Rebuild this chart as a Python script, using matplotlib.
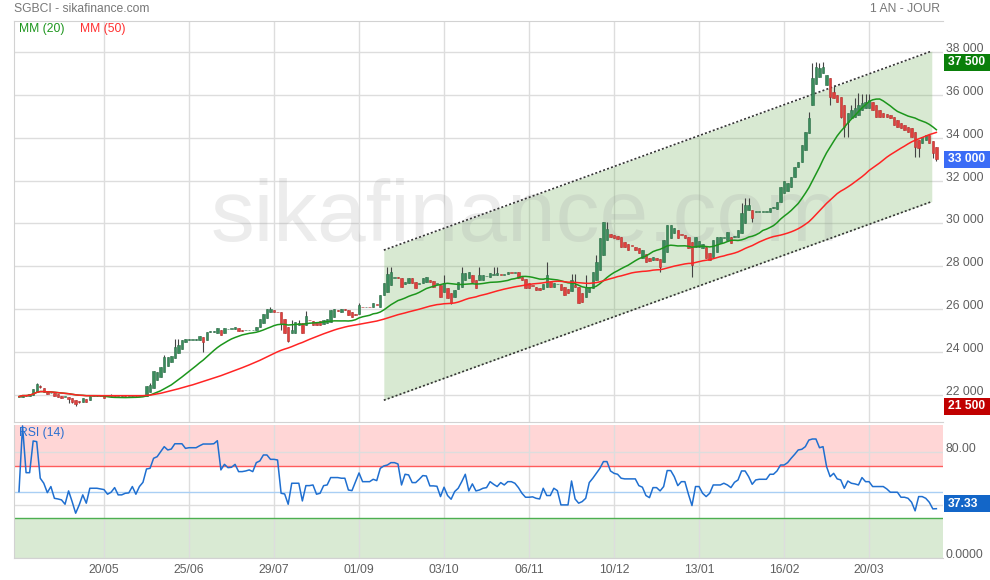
import numpy as np
import pandas as pd
import matplotlib
matplotlib.use("Agg")
import matplotlib.pyplot as plt
from matplotlib.patches import Rectangle
from matplotlib.transforms import ScaledTranslation, blended_transform_factory

plt.rcParams['font.family'] = ['Liberation Sans', 'DejaVu Sans']

# ---------------- data (daily candles) ----------------
opens = [
    21940, 21940, 22030, 21985, 22010, 22170, 22430, 22320, 22170, 22090,
    22090, 22040, 21985, 21935, 21935, 21860, 21780, 21720, 21700, 21830,
    21780, 21985, 21985, 22000, 21950, 21985, 21985, 22000, 21985, 21985,
    22000, 21985, 21985, 22000, 21985, 21985, 21985, 22170, 22320, 22710,
    22870, 23100, 23360, 23570, 23720, 23950, 24140, 24500, 24560, 24575,
    24590, 24575, 24700, 24575, 24950, 24960, 24920, 25040, 24920, 25090,
    25090, 25100, 25120, 25040, 25040, 25040, 25040, 25040, 25200, 25380,
    25580, 25900, 25950, 25880, 25860, 25540, 25200, 24890, 24920, 25270,
    25350, 25270, 25510, 25475, 25430, 25475, 25320, 25380, 25430, 25660,
    25990, 25865, 26000, 25970, 25860, 25770, 25770, 26130, 26100, 26130,
    26100, 26220, 26130, 26670, 26830, 27140, 27490, 27490, 27450, 27200,
    27210, 27450, 27290, 27210, 27210, 27290, 27370, 27340, 27210, 27140,
    26830, 26980, 26750, 26590, 26950, 27060, 27370, 27450, 27600, 27370,
    27370, 27370, 27555, 27525, 27630, 27600, 27640, 27630, 27630, 27730,
    27725, 27725, 27520, 27415, 27210, 27105, 27060, 27010, 26950, 27060,
    27290, 27060, 27180, 27170, 27060, 26950, 26860, 27140, 27060, 26750,
    26590, 26800, 26980, 27370, 27830, 28530, 29230, 29500, 29460, 29420,
    29390, 29150, 29030, 28970, 28920, 28870, 28380, 28560, 28410, 28300,
    28410, 28345, 28220, 28690, 29310, 29540, 29700, 29500, 29465, 29390,
    29155, 28920, 28920, 28875, 28920, 28610, 28456, 28690, 29077, 29340,
    29232, 29388, 29390, 29388, 29543, 30008, 30629, 30629, 30550, 30550,
    30550, 30550, 30550, 30740, 30676, 31017, 31405, 31500, 31716, 32181,
    32647, 32880, 33420, 34200, 35520, 36500, 36840, 37000, 36450, 36760,
    36139, 35984, 35906, 35518, 34742, 34897, 34975, 35052, 35285, 35363,
    35363, 35673, 35518, 35285, 35130, 35083, 35052, 34975, 34820, 34664,
    34587, 34509, 34432, 34276, 33888, 33733, 33888, 34121, 33842, 33579,
]
closes = [
    21940, 22030, 21985, 22060, 22280, 22510, 22400, 22170, 22060, 22120,
    21970, 21935, 21860, 21935, 21830, 21670, 21600, 21710, 21860, 21700,
    21985, 21985, 22000, 21985, 21850, 21985, 22000, 21985, 21985, 22000,
    21985, 21985, 22000, 21985, 21985, 22000, 22430, 22480, 23150, 23100,
    23330, 23800, 23800, 23830, 24260, 24340, 24575, 24600, 24600, 24590,
    24620, 24760, 24500, 24960, 24970, 24990, 25150, 24810, 25120, 25090,
    25100, 25160, 24990, 25000, 25040, 25040, 25040, 25190, 25540, 25770,
    26000, 26000, 25900, 25870, 25320, 24890, 24545, 25040, 25430, 25380,
    24920, 25690, 25500, 25270, 25270, 25270, 25510, 25540, 25970, 26000,
    25925, 26000, 25950, 25740, 25660, 25760, 26205, 26100, 26130, 26090,
    26280, 26205, 26670, 27210, 27630, 27725, 27490, 27470, 27060, 27290,
    27450, 27210, 26980, 27210, 27475, 27525, 27290, 27060, 27210, 26590,
    27210, 26515, 26280, 26900, 27290, 27680, 27680, 27760, 27290, 26980,
    27600, 27600, 27555, 27680, 27640, 27680, 27630, 27650, 27760, 27725,
    27730, 27445, 27370, 26980, 27010, 27100, 26900, 26900, 27170, 27600,
    27060, 27210, 27180, 26900, 26670, 26750, 27370, 27060, 26280, 26330,
    27060, 27060, 27760, 28220, 29310, 30050, 29740, 29390, 29310, 29280,
    28920, 28920, 28765, 28960, 28765, 28610, 28765, 28220, 28250, 28455,
    28300, 27990, 29230, 29930, 29930, 29776, 29310, 29490, 29340, 28840,
    28070, 29390, 29190, 29030, 28380, 28300, 29230, 29390, 29390, 29340,
    29620, 29077, 29400, 29698, 30474, 30862, 30862, 30241, 30550, 30550,
    30550, 30550, 30740, 30790, 31017, 31716, 31980, 31900, 32181, 32647,
    32880, 33656, 34276, 34900, 36760, 37300, 37225, 37300, 36915, 35906,
    35828, 35673, 34975, 34509, 35130, 35285, 35363, 35518, 35596, 35673,
    35751, 35285, 34975, 34975, 34975, 34975, 34897, 34587, 34509, 34432,
    34354, 34276, 34044, 33578, 33531, 34044, 34121, 33733, 33268, 33000,
]
# wicks that reach beyond the body (bar index -> price)
wick_highs = {5: 22560, 6: 22500, 26: 22050, 37: 22560, 41: 23880, 44: 24600,
              45: 24600, 71: 26100, 77: 25500, 79: 25500, 81: 25920, 96: 26280,
              104: 27990, 105: 27990, 120: 27600, 125: 27990, 130: 27990,
              134: 27990, 135: 27990, 149: 28220, 156: 27630, 157: 27630,
              160: 27600, 163: 28530, 166: 30050, 204: 30940, 205: 31170,
              206: 31170, 223: 35200, 224: 37480, 225: 37500, 226: 37460,
              227: 37500, 230: 36450, 235: 35520, 236: 35830, 237: 36060,
              238: 36015, 239: 36015, 240: 36015}
wick_lows = {6: 22320, 14: 21650, 15: 21630, 16: 21500, 17: 21650, 52: 24030,
             74: 25040, 76: 24500, 122: 26230, 181: 27760, 190: 27525,
             207: 30086, 229: 35518, 232: 34897, 233: 34044, 234: 34044,
             253: 33112, 254: 33112, 258: 33035, 259: 32900}

rsi14 = [
    50.3, 100.0, 64.6, 64.6, 88.6, 88.1, 60.4, 56.6, 49.5, 54.1,
    45.2, 44.7, 44.0, 40.7, 50.8, 42.7, 33.9, 40.2, 47.8, 41.5,
    52.8, 52.8, 52.8, 52.3, 51.8, 48.3, 49.8, 53.3, 47.8, 47.8,
    49.0, 49.3, 54.1, 48.3, 54.1, 57.3, 67.4, 67.9, 75.5, 76.7,
    80.5, 84.3, 81.8, 82.5, 86.5, 86.5, 86.5, 83.0, 83.5, 83.5,
    83.5, 85.0, 86.3, 86.3, 86.3, 86.5, 88.8, 66.7, 70.9, 68.4,
    68.7, 70.9, 65.4, 65.4, 65.9, 66.7, 65.4, 72.2, 73.5, 78.0,
    78.0, 74.7, 74.7, 74.2, 49.0, 48.5, 40.7, 56.6, 56.6, 56.6,
    43.2, 54.8, 54.8, 55.3, 48.3, 49.0, 54.8, 55.3, 60.9, 60.9,
    60.9, 60.4, 60.4, 51.5, 51.0, 57.8, 64.4, 57.8, 57.8, 57.8,
    59.6, 58.6, 67.9, 69.7, 70.4, 72.2, 72.2, 71.2, 55.3, 63.4,
    62.9, 57.1, 57.1, 59.6, 62.4, 62.1, 54.6, 54.6, 54.3, 46.5,
    53.6, 47.3, 44.5, 50.3, 52.8, 57.8, 63.4, 50.8, 56.1, 50.8,
    51.5, 52.8, 53.3, 57.8, 55.8, 54.1, 57.1, 55.3, 57.8, 57.8,
    56.6, 53.3, 49.0, 46.0, 46.0, 46.3, 45.2, 44.7, 52.8, 47.3,
    47.3, 52.8, 51.0, 40.2, 40.2, 40.2, 58.3, 44.7, 41.5, 42.7,
    45.2, 57.1, 60.4, 64.1, 67.9, 73.0, 73.0, 65.9, 64.1, 63.4,
    60.4, 59.9, 59.9, 59.9, 59.9, 54.8, 53.6, 47.3, 45.7, 53.3,
    53.3, 50.8, 54.1, 66.2, 66.2, 61.6, 54.8, 57.8, 57.8, 48.3,
    39.7, 54.1, 54.1, 49.0, 46.5, 49.0, 55.3, 55.3, 55.3, 56.6,
    55.3, 53.3, 57.3, 59.1, 65.9, 65.9, 61.6, 55.8, 59.1, 59.6,
    59.6, 59.6, 63.4, 63.4, 65.9, 70.4, 70.4, 72.2, 75.5, 78.5,
    81.8, 82.3, 84.3, 89.3, 90.1, 90.1, 83.5, 84.3, 69.2, 61.6,
    64.1, 59.9, 59.1, 52.8, 58.3, 56.6, 56.1, 55.3, 60.9, 57.8,
    57.8, 54.1, 54.1, 54.1, 54.1, 52.3, 49.8, 49.8, 49.8, 46.0,
    46.0, 45.2, 42.2, 35.7, 46.5, 46.5, 45.2, 42.2, 37.2, 37.33,
]

date_ticks = [24, 48, 72, 96, 120, 144, 168, 192, 216, 240]
date_labels = ['20/05', '25/06', '29/07', '01/09', '03/10',
               '06/11', '10/12', '13/01', '16/02', '20/03']
price_ticks = [22000, 24000, 26000, 28000, 30000, 32000, 34000, 36000, 38000]
rsi_ticks = [0, 40, 80]
rsi_tick_labels = ['0.0000', '', '80.00']

channel_bars = [103.0, 257.7]
channel_upper = [28760, 38030]
channel_lower = [21770, 31020]

# ---------------- derived series ----------------
n = len(closes)
x = np.arange(n)
o = np.array(opens, dtype=float)
c = np.array(closes, dtype=float)
hi = np.maximum(o, c)
lo = np.minimum(o, c)
for k, v in wick_highs.items():
    hi[k] = max(hi[k], v)
for k, v in wick_lows.items():
    lo[k] = min(lo[k], v)
s = pd.Series(c)
ma20 = s.rolling(20, min_periods=1).mean()
ma50 = s.rolling(50, min_periods=1).mean()

# ---------------- figure layout ----------------
W, H = 990, 580
fig = plt.figure(figsize=(W / 100, H / 100), dpi=100)


def px_rect(x0, y0, x1, y1):
    return [x0 / W, 1 - y1 / H, (x1 - x0) / W, (y1 - y0) / H]


AX_L, AX_R = 14, 943
MAIN_T, MAIN_B = 21, 422
RSI_T, RSI_B = 425, 558
ax = fig.add_axes(px_rect(AX_L, MAIN_T, AX_R, MAIN_B))
axr = fig.add_axes(px_rect(AX_L, RSI_T, AX_R, RSI_B), sharex=ax)

XLIM = (-1.41, 260.87)
YLIM = (20755, 39430)
RLIM = (0, 100.7)
ax.set_xlim(*XLIM)
ax.set_ylim(*YLIM)
axr.set_ylim(*RLIM)

GRID = '#dddddd'
LABEL = '#5f5f5f'
for a in (ax, axr):
    a.set_axisbelow(True)
    a.grid(True, color=GRID, lw=1)
    for sp in ('left', 'bottom', 'top'):
        a.spines[sp].set_color('#d2d2d2')
    a.spines['right'].set_visible(False)
    a.tick_params(axis='both', length=0, labelleft=False, labelright=False)
axr.spines['top'].set_visible(False)

ax.set_yticks(price_ticks)
ax.set_xticks(date_ticks)
ax.tick_params(axis='x', labelbottom=False)
axr.set_yticks(rsi_ticks)
axr.set_xticks(date_ticks)
axr.set_xticklabels(date_labels)
axr.tick_params(axis='x', pad=4, labelsize=8.7, labelcolor=LABEL)

# ---------------- main pane ----------------
ax.fill_between(channel_bars, channel_lower, channel_upper,
                color='#67ab4f', alpha=0.25, lw=0, zorder=1)
for line in (channel_upper, channel_lower):
    ax.plot(channel_bars, line, color='#333333', lw=1.2,
            ls=(0, (1.2, 1.3)), zorder=2)

ax.text(0.55, 0.452, 'sikafinance.com', transform=ax.transAxes,
        ha='center', va='baseline', fontsize=63, color='#a0a0a0',
        alpha=0.2, zorder=1.5)

up = c >= o
body_h = np.abs(c - o)
min_h = 35.0
body_bottom = np.where(body_h < min_h, (o + c) / 2 - min_h / 2, np.minimum(o, c))
body_h = np.maximum(body_h, min_h)
ax.vlines(x, lo, hi, color='#444444', lw=0.8, zorder=3)
ax.bar(x, body_h, bottom=body_bottom, width=0.68,
       color=np.where(up, '#3a8c5c', '#e0403e'),
       edgecolor=np.where(up, '#2b6c46', '#b52e2c'), lw=0.4, zorder=4)

ax.plot(x, ma20, color='#1c961c', lw=1.1, zorder=5)
ax.plot(x, ma50, color='#ff2424', lw=1.1, zorder=5)

ax.text(5 / 929, 1 - 8 / 401, 'MM (20)', transform=ax.transAxes,
        va='center', ha='left', color='#1e961e', fontsize=8.7)
ax.text(66 / 929, 1 - 8 / 401, 'MM (50)', transform=ax.transAxes,
        va='center', ha='left', color='#ff3030', fontsize=8.7)

# ---------------- RSI pane ----------------
axr.axhspan(70, RLIM[1], color='#ffd6d6', lw=0, zorder=0)
axr.axhspan(0, 30, color='#d9ead3', lw=0, zorder=0)
axr.axhline(70, color='#ff5c5c', lw=1, zorder=2)
axr.axhline(30, color='#4caf50', lw=1, zorder=2)
axr.axhline(50, color='#a9cff4', lw=1, zorder=2)
axr.plot(x, rsi14, color='#1f6fd0', lw=1.1, zorder=4)
axr.text(5 / 929, 1 - 8 / 133, 'RSI (14)', transform=axr.transAxes,
         va='center', ha='left', color='#2a6fd0', fontsize=8.7)

# ---------------- right-hand labels ----------------
def fmt_price(v):
    return f"{int(round(v)):,}".replace(",", " ")


lab_off = ScaledTranslation(3 / 100, 3 / 100, fig.dpi_scale_trans)
tr_main = blended_transform_factory(ax.transAxes, ax.transData) + lab_off
for v in price_ticks:
    ax.text(1.0, v, fmt_price(v), transform=tr_main, ha='left', va='center',
            color=LABEL, fontsize=8.7, clip_on=False)
tr_rsi = blended_transform_factory(axr.transAxes, axr.transData) + lab_off
for v, t in zip(rsi_ticks, rsi_tick_labels):
    if t:
        axr.text(1.0, v, t, transform=tr_rsi, ha='left', va='center',
                 color=LABEL, fontsize=8.7, clip_on=False)


def value_to_px(v, lim, top, bottom):
    return top + (lim[1] - v) / (lim[1] - lim[0]) * (bottom - top)


def value_box(ypx, text, fc):
    h = 17
    fig.add_artist(Rectangle((944 / W, 1 - (ypx + h / 2) / H), (W - 944) / W, h / H,
                             transform=fig.transFigure, fc=fc, ec='none', zorder=10))
    fig.text(947.5 / W, 1 - ypx / H, text, ha='left', va='center', color='white',
             fontsize=8.7, fontweight='bold', zorder=11)


max_high = hi.max()
min_low = lo.min()
last_close = c[-1]
value_box(value_to_px(max_high, YLIM, MAIN_T, MAIN_B), fmt_price(max_high), '#0a7f0a')
value_box(value_to_px(last_close, YLIM, MAIN_T, MAIN_B), fmt_price(last_close), '#3b6cf6')
value_box(value_to_px(min_low, YLIM, MAIN_T, MAIN_B), fmt_price(min_low), '#c10000')
value_box(value_to_px(rsi14[-1], RLIM, RSI_T, RSI_B) - 5, f"{rsi14[-1]:.2f}", '#1366c8')

# ---------------- header ----------------
fig.text(14 / W, 1 - 9 / H, 'SGBCI - sikafinance.com', ha='left', va='center',
         color='#777777', fontsize=8.7)
fig.text(940 / W, 1 - 9 / H, '1 AN - JOUR', ha='right', va='center',
         color='#777777', fontsize=8.7)

fig.savefig('out.png', dpi=100)
